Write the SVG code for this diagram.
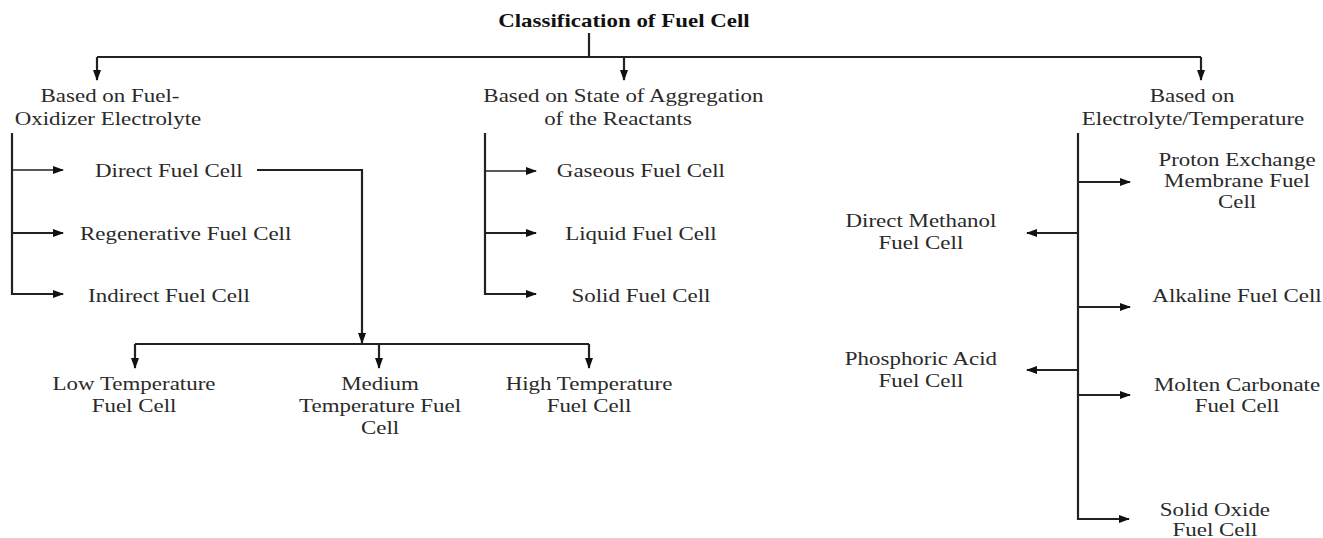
<svg xmlns="http://www.w3.org/2000/svg" width="1323" height="538" viewBox="0 0 1323 538">
<style>
text{font-family:"Liberation Serif","Times New Roman",serif;font-size:18.5px;fill:#2a2a2a}
.t{font-weight:bold;fill:#111}
.c{text-anchor:middle}
.ln{fill:none;stroke:#222;stroke-width:2.2}
.thin{fill:none;stroke:#222;stroke-width:1.3}
.ar{marker-end:url(#ah)}
</style>
<defs>
<marker id="ah" markerUnits="userSpaceOnUse" markerWidth="11" markerHeight="8" refX="10" refY="4" orient="auto">
<path d="M0,0 L11,4 L0,8 z" fill="#111"/>
</marker>
</defs>
<rect width="1323" height="538" fill="#fff"/>

<g id="connectors">
<path class="ln" d="M589 33 V57"/>
<path class="ln" d="M97 57 H1201"/>
<path class="ln ar" d="M97 57 V80"/>
<path class="ln ar" d="M624 57 V80"/>
<path class="ln ar" d="M1201 57 V80"/>
<path class="ln ar" d="M12 133 V294 H63"/>
<path class="thin ar" d="M12 170 H63"/>
<path class="ln ar" d="M12 233 H63"/>
<path class="ln ar" d="M257 170 H362 V343"/>
<path class="ln" d="M135 344 H589"/>
<path class="ln ar" d="M135 344 V368"/>
<path class="ln ar" d="M379 344 V368"/>
<path class="ln ar" d="M589 344 V368"/>
<path class="ln ar" d="M485 133 V294 H536"/>
<path class="thin ar" d="M485 171 H536"/>
<path class="ln ar" d="M485 233 H536"/>
<path class="ln ar" d="M1078 133 V519 H1129"/>
<path class="ln ar" d="M1078 182 H1130"/>
<path class="ln ar" d="M1078 233 H1027"/>
<path class="ln ar" d="M1078 307 H1130"/>
<path class="ln ar" d="M1078 370 H1027"/>
<path class="ln ar" d="M1078 395 H1130"/>
</g>

<g id="root" transform="scale(1.24 1)"><text class="t c" x="503.2" y="27">Classification of Fuel Cell</text></g>

<g id="fuel-oxidizer" transform="scale(1.24 1)">
<text class="c" x="88.7" y="102">Based on Fuel-</text>
<text class="c" x="87.1" y="125">Oxidizer Electrolyte</text>
</g>
<g id="state-aggregation" transform="scale(1.24 1)">
<text class="c" x="502.8" y="102">Based on State of Aggregation</text>
<text class="c" x="498.4" y="125">of the Reactants</text>
</g>
<g id="electrolyte-temperature" transform="scale(1.24 1)">
<text class="c" x="961.3" y="102">Based on</text>
<text class="c" x="962.1" y="125">Electrolyte/Temperature</text>
</g>

<g id="direct" transform="scale(1.24 1)"><text x="76.6" y="177">Direct Fuel Cell</text></g>
<g id="regenerative" transform="scale(1.24 1)"><text x="64.5" y="240">Regenerative Fuel Cell</text></g>
<g id="indirect" transform="scale(1.24 1)"><text x="71" y="302">Indirect Fuel Cell</text></g>

<g id="gaseous" transform="scale(1.24 1)"><text class="c" x="516.9" y="177">Gaseous Fuel Cell</text></g>
<g id="liquid" transform="scale(1.24 1)"><text class="c" x="516.9" y="240">Liquid Fuel Cell</text></g>
<g id="solid" transform="scale(1.24 1)"><text class="c" x="516.9" y="302">Solid Fuel Cell</text></g>

<g id="low-temp" transform="scale(1.24 1)">
<text class="c" x="108.1" y="390">Low Temperature</text>
<text class="c" x="108.1" y="412">Fuel Cell</text>
</g>
<g id="medium-temp" transform="scale(1.24 1)">
<text class="c" x="306.5" y="390">Medium</text>
<text class="c" x="306.5" y="412">Temperature Fuel</text>
<text class="c" x="306.5" y="434">Cell</text>
</g>
<g id="high-temp" transform="scale(1.24 1)">
<text class="c" x="475" y="390">High Temperature</text>
<text class="c" x="475" y="412">Fuel Cell</text>
</g>

<g id="pem" transform="scale(1.24 1)">
<text class="c" x="997.6" y="166">Proton Exchange</text>
<text class="c" x="997.6" y="187">Membrane Fuel</text>
<text class="c" x="997.6" y="208">Cell</text>
</g>
<g id="dmfc" transform="scale(1.24 1)">
<text class="c" x="742.7" y="227">Direct Methanol</text>
<text class="c" x="742.7" y="249">Fuel Cell</text>
</g>
<g id="alkaline" transform="scale(1.24 1)"><text class="c" x="997.6" y="302">Alkaline Fuel Cell</text></g>
<g id="pafc" transform="scale(1.24 1)">
<text class="c" x="742.7" y="365">Phosphoric Acid</text>
<text class="c" x="742.7" y="387">Fuel Cell</text>
</g>
<g id="mcfc" transform="scale(1.24 1)">
<text class="c" x="997.6" y="391">Molten Carbonate</text>
<text class="c" x="997.6" y="412">Fuel Cell</text>
</g>
<g id="sofc" transform="scale(1.24 1)">
<text class="c" x="979.8" y="516">Solid Oxide</text>
<text class="c" x="979.8" y="536">Fuel Cell</text>
</g>
</svg>
